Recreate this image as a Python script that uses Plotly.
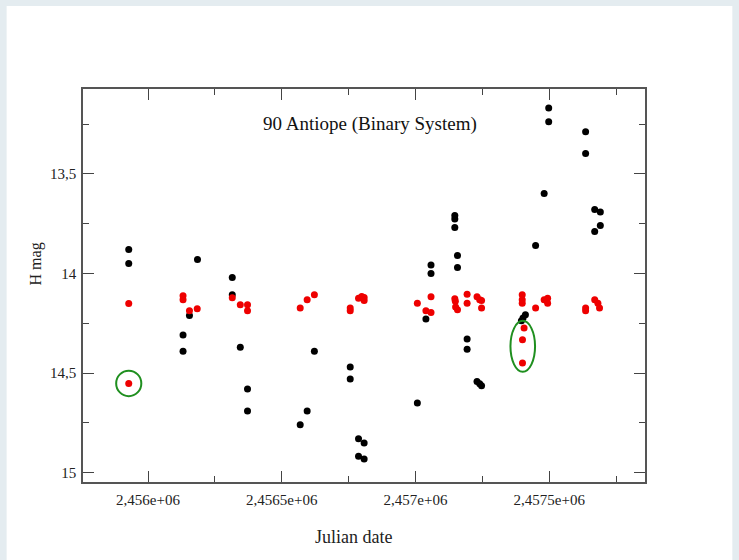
import plotly.graph_objects as go

# ---- data ----
black_jd = [2455928, 2455928,
            2456185, 2456155, 2456131, 2456131,
            2456315, 2456315, 2456345, 2456372, 2456372,
            2456622, 2456595, 2456569,
            2456756, 2456756, 2456787, 2456808, 2456787, 2456808,
            2457058, 2457058, 2457039, 2457007,
            2457147, 2457147, 2457147, 2457157, 2457157, 2457193, 2457193, 2457230, 2457240, 2457247,
            2457498, 2457498, 2457481, 2457449, 2457411, 2457402, 2457396,
            2457636, 2457636, 2457670, 2457691, 2457691, 2457670]
black_h = [13.880, 13.950,
           13.930, 14.211, 14.309, 14.390,
           14.020, 14.107, 14.370, 14.580, 14.691,
           14.390, 14.691, 14.759,
           14.470, 14.530, 14.830, 14.851, 14.918, 14.932,
           13.958, 14.000, 14.229, 14.651,
           13.709, 13.727, 13.769, 13.910, 13.970, 14.329, 14.380, 14.542, 14.554, 14.564,
           13.169, 13.239, 13.599, 13.860, 14.207, 14.224, 14.238,
           13.289, 13.398, 13.679, 13.691, 13.759, 13.790]

red_jd = [2455928, 2455928,
          2456131, 2456131, 2456155, 2456184,
          2456315, 2456345, 2456372, 2456372,
          2456569, 2456595, 2456622,
          2456756, 2456756, 2456787, 2456799, 2456808, 2456808,
          2457007, 2457039, 2457058, 2457058,
          2457147, 2457149, 2457150, 2457157, 2457193, 2457193, 2457230, 2457240, 2457247, 2457247,
          2457399, 2457399, 2457399, 2457449, 2457481, 2457494, 2457494,
          2457406, 2457400, 2457400,
          2457636, 2457636, 2457670, 2457682, 2457688]
red_h = [14.151, 14.552,
         14.112, 14.132, 14.187, 14.177,
         14.122, 14.157, 14.157, 14.187,
         14.174, 14.132, 14.107,
         14.174, 14.187, 14.124, 14.116, 14.121, 14.136,
         14.149, 14.187, 14.196, 14.117,
         14.127, 14.140, 14.169, 14.182, 14.105, 14.149, 14.117, 14.132, 14.136, 14.174,
         14.107, 14.132, 14.149, 14.174, 14.132, 14.124, 14.149,
         14.274, 14.333, 14.450,
         14.174, 14.187, 14.132, 14.149, 14.174]

# highlighted regions: (center jd, center mag, half-width days, half-height mag)
circle_marks = [(2455928, 14.552, 47, 0.064),
                (2457401, 14.366, 46, 0.128)]

x_tickvals = [2456000, 2456500, 2457000, 2457500]
x_ticktext = ["2,456e+06", "2,4565e+06", "2,457e+06", "2,4575e+06"]
y_tickvals = [13.5, 14.0, 14.5, 15.0]
y_ticktext = ["13,5", "14", "14,5", "15"]

title_text = "90 Antiope (Binary System)"
x_title = "Julian date"
y_title = "H mag"

# ---- figure ----
W, H = 739, 560
L, R, T, B = 82.5, 93.5, 89, 77.7
pw, ph = W - L - R, H - T - B


def px_x(px):
    return (px - L) / pw


def px_y(py):
    return (H - B - py) / ph


fig = go.Figure()
fig.add_trace(go.Scatter(x=black_jd, y=black_h, mode="markers",
                         marker=dict(color="black", size=7), showlegend=False))
fig.add_trace(go.Scatter(x=red_jd, y=red_h, mode="markers",
                         marker=dict(color="#ee0000", size=7), showlegend=False))

for cx, cy, hw, hh in circle_marks:
    fig.add_shape(type="circle", xref="x", yref="y",
                  x0=cx - hw, x1=cx + hw, y0=cy - hh, y1=cy + hh,
                  line=dict(color="#1f8f1f", width=2))

# white card on the light grey page
fig.add_shape(type="rect", xref="paper", yref="paper", layer="below",
              x0=px_x(6), x1=px_x(733), y0=px_y(562), y1=px_y(6),
              fillcolor="white", line=dict(width=0))

fig.add_annotation(text=title_text, xref="paper", yref="paper",
                   x=px_x(370.5), y=px_y(124),
                   showarrow=False, xanchor="center", yanchor="middle",
                   font=dict(family="Liberation Serif", size=19, color="#111"))
fig.add_annotation(text=x_title, xref="paper", yref="paper",
                   x=px_x(353), y=px_y(537.5),
                   showarrow=False, xanchor="center", yanchor="middle",
                   font=dict(family="Liberation Serif", size=18, color="#222"))
fig.add_annotation(text=y_title, xref="paper", yref="paper",
                   x=px_x(35), y=px_y(264), textangle=-90,
                   showarrow=False, xanchor="center", yanchor="middle",
                   font=dict(family="Liberation Serif", size=16, color="#222"))

axis_common = dict(showline=True, linecolor="#555", linewidth=1.5, mirror="ticks",
                   ticks="inside", ticklen=11, tickwidth=1.2, tickcolor="#444",
                   showgrid=False, zeroline=False,
                   tickfont=dict(family="Liberation Serif", size=15, color="#222"))

fig.update_xaxes(range=[2455757, 2457858], tickvals=x_tickvals, ticktext=x_ticktext,
                 minor=dict(ticks="inside", ticklen=6, tickcolor="#444", dtick=250,
                            tick0=2455750, showgrid=False),
                 ticklabelstandoff=3,
                 **axis_common)
fig.update_yaxes(range=[15.047, 13.074], tickvals=y_tickvals, ticktext=y_ticktext,
                 minor=dict(ticks="inside", ticklen=6, tickcolor="#444", dtick=0.25,
                            tick0=13.25, showgrid=False),
                 ticklabelstandoff=2,
                 **axis_common)

fig.update_layout(width=W, height=H,
                  margin=dict(l=L, r=R, t=T, b=B, pad=0, autoexpand=False),
                  paper_bgcolor="#e4ecf0", plot_bgcolor="white")

fig.write_html("out.html")
